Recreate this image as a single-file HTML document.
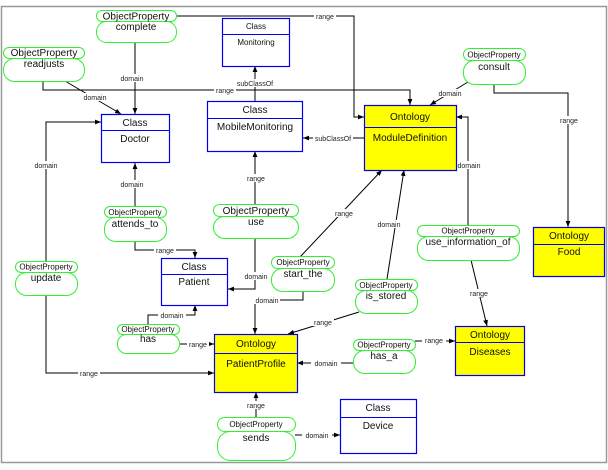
<!DOCTYPE html>
<html><head><meta charset="utf-8"><style>
html,body{margin:0;padding:0;background:#fff;width:608px;height:470px;overflow:hidden}
svg{display:block;font-family:"Liberation Sans",Arial,sans-serif}
.op{fill:#fff;stroke:#33ee33;stroke-width:1}
.cl{fill:#fff;stroke:#0000ee;stroke-width:1.2}
.on{fill:#ffff00;stroke:#0000ee;stroke-width:1.2}
.e{fill:none;stroke:#000;stroke-width:1}
.l{font-size:7px;fill:#222;text-anchor:middle}
.s{font-size:8px;fill:#111;text-anchor:middle}
.n{font-size:10px;fill:#111;text-anchor:middle}
</style></head><body>
<svg width="608" height="470" viewBox="0 0 608 470">
<defs><marker id="a" viewBox="0 0 10 10" refX="10" refY="5" markerWidth="6" markerHeight="6" orient="auto"><path d="M0,1 L10,5 L0,9z" fill="#000"/></marker></defs>
<rect x="1.5" y="6.5" width="605" height="456" fill="#fff" stroke="#999" stroke-width="1.5"/>

<!-- edges -->
<g class="e" marker-end="url(#a)">
<polyline points="176,16 354,16 354,117 364,117"/>
<polyline points="135,42 135,114"/>
<polyline points="43,81 43,90 410,90 410,105"/>
<polyline points="65,81 121,114"/>
<polyline points="255,101 255,66"/>
<polyline points="364,138 303,138"/>
<polyline points="468,82 430,105"/>
<polyline points="494,84 494,93 568,93 568,227"/>
<polyline points="46,261 46,122 101,122"/>
<polyline points="46,295 46,373 214,373"/>
<polyline points="135,206 135,163"/>
<polyline points="135,241 135,250 195,250 195,258"/>
<polyline points="255,205 255,151"/>
<polyline points="255,238 255,289 228,289"/>
<polyline points="303,291 303,300 255,300 255,334"/>
<polyline points="300,257 382,170"/>
<polyline points="387,279 404,170"/>
<polyline points="359,312 288,334"/>
<polyline points="468,226 468,117 456,117"/>
<polyline points="471,260 487,326"/>
<polyline points="148,324 148,315 195,315 195,305"/>
<polyline points="180,344 214,344"/>
<polyline points="353,363 297,363"/>
<polyline points="415,341 455,341"/>
<polyline points="256,417 256,392"/>
<polyline points="295,435 340,435"/>
</g>
<g fill="#fff">
<rect x="110" y="74" width="44" height="8"/><rect x="78" y="93" width="34" height="8"/>
<rect x="214" y="86" width="22" height="8"/><rect x="234" y="79" width="42" height="8"/>
<rect x="313" y="134" width="40" height="8"/><rect x="314" y="12" width="22" height="8"/>
<rect x="433" y="89" width="34" height="8"/><rect x="558" y="116" width="22" height="8"/>
<rect x="30" y="161" width="32" height="8"/><rect x="78" y="369" width="22" height="8"/>
<rect x="116" y="180" width="32" height="8"/><rect x="154" y="246" width="22" height="8"/>
<rect x="245" y="174" width="22" height="8"/><rect x="244" y="272" width="24" height="8"/>
<rect x="254" y="296" width="26" height="8"/><rect x="333" y="209" width="22" height="8"/>
<rect x="374" y="220" width="30" height="8"/><rect x="312" y="318" width="22" height="8"/>
<rect x="453" y="161" width="32" height="8"/><rect x="468" y="289" width="22" height="8"/>
<rect x="158" y="311" width="28" height="8"/><rect x="187" y="340" width="22" height="8"/>
<rect x="311" y="359" width="30" height="8"/><rect x="422" y="336" width="24" height="8"/>
<rect x="245" y="401" width="22" height="8"/><rect x="302" y="431" width="30" height="8"/>
</g>
<g class="l">
<text x="132" y="81">domain</text><text x="95" y="100">domain</text>
<text x="225" y="93">range</text><text x="255" y="86">subClassOf</text>
<text x="333" y="141">subClassOf</text><text x="325" y="19">range</text>
<text x="450" y="96">domain</text><text x="569" y="123">range</text>
<text x="46" y="168">domain</text><text x="89" y="376">range</text>
<text x="132" y="187">domain</text><text x="165" y="253">range</text>
<text x="256" y="181">range</text><text x="256" y="279">domain</text>
<text x="267" y="303">domain</text><text x="344" y="216">range</text>
<text x="389" y="227">domain</text><text x="323" y="325">range</text>
<text x="469" y="168">domain</text><text x="479" y="296">range</text>
<text x="172" y="318">domain</text><text x="198" y="347">range</text>
<text x="326" y="366">domain</text><text x="434" y="343">range</text>
<text x="256" y="408">range</text><text x="317" y="438">domain</text>
</g>

<!-- object properties -->
<g>
<rect class="op" x="96.5" y="10.5" width="80" height="11" rx="5.5"/><rect class="op" x="96.5" y="21.5" width="80" height="21" rx="10"/>
<text class="n" x="136" y="19.5">ObjectProperty</text><text class="n" x="136" y="30">complete</text>
<rect class="op" x="3.5" y="47.5" width="81" height="11" rx="5.5"/><rect class="op" x="3.5" y="58.5" width="81" height="23" rx="11"/>
<text class="n" x="44" y="56">ObjectProperty</text><text class="n" x="44" y="67">readjusts</text>
<rect class="op" x="463.5" y="48.5" width="62" height="12" rx="6"/><rect class="op" x="463.5" y="60.5" width="62" height="24" rx="11"/>
<text class="s" x="494" y="57.5">ObjectProperty</text><text class="n" x="494" y="70">consult</text>
<rect class="op" x="104.5" y="206.5" width="62" height="11" rx="5.5"/><rect class="op" x="104.5" y="217.5" width="62" height="24" rx="11"/>
<text class="s" x="135" y="215">ObjectProperty</text><text class="n" x="135" y="227">attends_to</text>
<rect class="op" x="213.5" y="204.5" width="85" height="12" rx="6"/><rect class="op" x="213.5" y="216.5" width="85" height="22" rx="11"/>
<text class="n" x="256" y="214">ObjectProperty</text><text class="n" x="256" y="225">use</text>
<rect class="op" x="15.5" y="261.5" width="62" height="11" rx="5.5"/><rect class="op" x="15.5" y="272.5" width="62" height="23" rx="11"/>
<text class="s" x="46" y="269.5">ObjectProperty</text><text class="n" x="46" y="281">update</text>
<rect class="op" x="271.5" y="256.5" width="63" height="12" rx="6"/><rect class="op" x="271.5" y="268.5" width="63" height="23" rx="11"/>
<text class="s" x="303" y="265">ObjectProperty</text><text class="n" x="303" y="277">start_the</text>
<rect class="op" x="355.5" y="279.5" width="62" height="11" rx="5.5"/><rect class="op" x="355.5" y="290.5" width="62" height="23" rx="11"/>
<text class="s" x="386" y="288">ObjectProperty</text><text class="n" x="386" y="299">is_stored</text>
<rect class="op" x="417.5" y="225.5" width="102" height="11" rx="5.5"/><rect class="op" x="417.5" y="236.5" width="102" height="24" rx="11"/>
<text class="s" x="468" y="233.5">ObjectProperty</text><text class="n" x="468" y="245">use_information_of</text>
<rect class="op" x="117.5" y="324.5" width="62" height="10" rx="5"/><rect class="op" x="117.5" y="334.5" width="62" height="19" rx="9"/>
<text class="s" x="148" y="332">ObjectProperty</text><text class="n" x="148" y="342">has</text>
<rect class="op" x="353.5" y="339.5" width="62" height="11" rx="5.5"/><rect class="op" x="353.5" y="350.5" width="62" height="23" rx="11"/>
<text class="s" x="384" y="347.5">ObjectProperty</text><text class="n" x="384" y="359">has_a</text>
<rect class="op" x="217.5" y="417.5" width="78" height="14" rx="7"/><rect class="op" x="217.5" y="431.5" width="78" height="29" rx="13"/>
<text class="s" x="256" y="427">ObjectProperty</text><text class="n" x="256" y="441">sends</text>
</g>

<!-- classes -->
<g>
<rect class="cl" x="222.5" y="18.5" width="67" height="48"/><line x1="222" y1="34.5" x2="290" y2="34.5" stroke="#00e"/>
<text class="s" x="256" y="29">Class</text><text class="s" x="256" y="45">Monitoring</text>
<rect class="cl" x="101.5" y="114.5" width="68" height="48"/><line x1="101" y1="130.5" x2="170" y2="130.5" stroke="#00e"/>
<text class="n" x="135" y="126">Class</text><text class="n" x="135" y="142">Doctor</text>
<rect class="cl" x="207.5" y="101.5" width="95" height="50"/><line x1="207" y1="118.5" x2="303" y2="118.5" stroke="#00e"/>
<text class="n" x="255" y="113">Class</text><text class="n" x="255" y="130">MobileMonitoring</text>
<rect class="cl" x="161.5" y="258.5" width="66" height="47"/><line x1="161" y1="274.5" x2="228" y2="274.5" stroke="#00e"/>
<text class="n" x="194" y="270">Class</text><text class="n" x="194" y="285">Patient</text>
<rect class="cl" x="340.5" y="399.5" width="76" height="54"/><line x1="340" y1="417.5" x2="417" y2="417.5" stroke="#00e"/>
<text class="n" x="378" y="411">Class</text><text class="n" x="378" y="429">Device</text>
<rect class="on" x="364.5" y="105.5" width="92" height="65"/><line x1="364" y1="127.5" x2="457" y2="127.5" stroke="#00e"/>
<text class="n" x="410" y="120">Ontology</text><text class="n" x="410" y="141">ModuleDefinition</text>
<rect class="on" x="533.5" y="227.5" width="71" height="49"/><line x1="533" y1="244.5" x2="605" y2="244.5" stroke="#00e"/>
<text class="n" x="569" y="239">Ontology</text><text class="n" x="569" y="255">Food</text>
<rect class="on" x="455.5" y="326.5" width="69" height="49"/><line x1="455" y1="342.5" x2="525" y2="342.5" stroke="#00e"/>
<text class="n" x="490" y="338">Ontology</text><text class="n" x="490" y="355">Diseases</text>
<rect class="on" x="214.5" y="334.5" width="83" height="58"/><line x1="214" y1="353.5" x2="298" y2="353.5" stroke="#00e"/>
<text class="n" x="256" y="347">Ontology</text><text class="n" x="256" y="367">PatientProfile</text>
</g>
</svg>
</body></html>
